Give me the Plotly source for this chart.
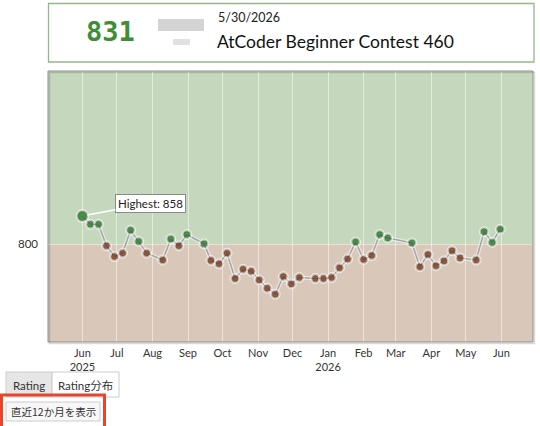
import plotly.graph_objects as go

# ---------------- data ----------------
dates = [
    "2025-05-31", "2025-06-07", "2025-06-14", "2025-06-21", "2025-06-28",
    "2025-07-05", "2025-07-12", "2025-07-19", "2025-07-26", "2025-08-09",
    "2025-08-16", "2025-08-23", "2025-08-30", "2025-09-14", "2025-09-20",
    "2025-09-27", "2025-10-04", "2025-10-11", "2025-10-18", "2025-10-25",
    "2025-11-01", "2025-11-08", "2025-11-15", "2025-11-22", "2025-11-29",
    "2025-12-06", "2025-12-20", "2025-12-27", "2026-01-03", "2026-01-10",
    "2026-01-17", "2026-01-24", "2026-01-31", "2026-02-07", "2026-02-14",
    "2026-02-21", "2026-03-14", "2026-03-21", "2026-03-28", "2026-04-04",
    "2026-04-11", "2026-04-18", "2026-04-25", "2026-05-09", "2026-05-16",
    "2026-05-23", "2026-05-30",
]
ratings = [
    858, 841, 841, 797, 775, 782, 829, 806, 782, 768,
    811, 797, 820, 801, 767, 760, 782, 730, 749, 745,
    727, 710, 698, 734, 719, 732, 730, 730, 732, 752,
    770, 805, 769, 777, 820, 813, 803, 754, 779, 756,
    766, 787, 772, 768, 826, 804, 831,
]
tick_vals = [
    "2025-06-01", "2025-07-01", "2025-08-01", "2025-09-01", "2025-10-01",
    "2025-11-01", "2025-12-01", "2026-01-01", "2026-02-01", "2026-03-01",
    "2026-04-01", "2026-05-01", "2026-06-01",
]
tick_text = ["Jun<br>2025", "Jul", "Aug", "Sep", "Oct", "Nov", "Dec",
             "Jan<br>2026", "Feb", "Mar", "Apr", "May", "Jun"]
y_ticks = [800]
band_edges = [600, 800, 1155]
x_range = ["2025-05-02", "2026-06-28 12:00"]
contest_name = "AtCoder Beginner Contest 460"
contest_date = "5/30/2026"
current_rating = 831

# ---------------- layout helpers ----------------
W, H = 540, 426
L, R, T, B = 48, 533, 71, 342
PW, PH = R - L, B - T


def px(x):
    return (x - L) / PW


def py(y):
    return (B - y) / PH


times = [d + " 22:40" for d in dates]
colors = ["#16761a" if r >= 800 else "#782a08" for r in ratings]
hi_idx = max(range(len(ratings)), key=lambda i: ratings[i])
sizes = [9 if i == hi_idx else 6 for i in range(len(ratings))]

fig = go.Figure()
# line halo
fig.add_trace(go.Scatter(x=times, y=ratings, mode="lines",
                         line=dict(color="rgba(255,255,255,0.5)", width=4),
                         hoverinfo="skip", showlegend=False))
fig.add_trace(go.Scatter(x=times, y=ratings, mode="lines",
                         line=dict(color="#a5a5a5", width=1.5),
                         hoverinfo="skip", showlegend=False))
# marker halo
fig.add_trace(go.Scatter(x=times, y=ratings, mode="markers",
                         marker=dict(color="rgba(120,120,120,0.22)",
                                     size=[s + 4 for s in sizes]),
                         hoverinfo="skip", showlegend=False))
fig.add_trace(go.Scatter(x=times, y=ratings, mode="markers",
                         marker=dict(color=colors, size=sizes,
                                     line=dict(color="rgba(0,0,0,0.35)", width=0.8)),
                         showlegend=False))

shapes = []
# rating bands
shapes.append(dict(type="rect", xref="paper", yref="y", x0=0, x1=1,
                   y0=band_edges[1], y1=band_edges[2], fillcolor="#c5d8bd",
                   line=dict(width=0), layer="below"))
shapes.append(dict(type="rect", xref="paper", yref="y", x0=0, x1=1,
                   y0=band_edges[0], y1=band_edges[1], fillcolor="#d9c8ba",
                   line=dict(width=0), layer="below"))
# chart frame shadow + frame
shapes.append(dict(type="rect", xref="paper", yref="paper",
                   x0=px(L + 1.5), x1=px(R + 1.5), y0=py(B + 1.5), y1=py(T + 1.5),
                   line=dict(color="rgba(0,0,0,0.15)", width=1.5), layer="below"))
shapes.append(dict(type="rect", xref="paper", yref="paper",
                   x0=0, x1=1, y0=0, y1=1,
                   line=dict(color="#8e8e8e", width=1), layer="above"))
# header box
shapes.append(dict(type="rect", xref="paper", yref="paper",
                   x0=px(48.5), x1=px(534), y0=py(62), y1=py(3.5),
                   line=dict(color="#92b98a", width=1.3), fillcolor="white"))
# blurred user name
shapes.append(dict(type="rect", xref="paper", yref="paper",
                   x0=px(158), x1=px(204), y0=py(31), y1=py(19),
                   line=dict(width=0), fillcolor="rgba(160,160,160,0.45)"))
shapes.append(dict(type="rect", xref="paper", yref="paper",
                   x0=px(173), x1=px(190), y0=py(45), y1=py(39),
                   line=dict(width=0), fillcolor="rgba(180,180,180,0.4)"))
# tabs
shapes.append(dict(type="rect", xref="paper", yref="paper",
                   x0=px(6), x1=px(52), y0=py(397), y1=py(372),
                   line=dict(color="#cccccc", width=1), fillcolor="#e6e6e6"))
shapes.append(dict(type="rect", xref="paper", yref="paper",
                   x0=px(52), x1=px(119), y0=py(397), y1=py(372),
                   line=dict(color="#cccccc", width=1), fillcolor="white"))
# button
shapes.append(dict(type="rect", xref="paper", yref="paper",
                   x0=px(6), x1=px(100), y0=py(421), y1=py(402),
                   line=dict(color="#cccccc", width=1), fillcolor="#f7f7f7"))
# red highlight box
shapes.append(dict(type="rect", xref="paper", yref="paper",
                   x0=px(1.5), x1=px(104.5), y0=py(428), y1=py(395),
                   line=dict(color="#e8452c", width=3)))

annotations = []
annotations.append(dict(x=times[hi_idx], y=ratings[hi_idx], xref="x", yref="y",
                        text="Highest: %d" % ratings[hi_idx],
                        showarrow=True, ax=68, ay=-13, arrowhead=0,
                        arrowcolor="white", arrowwidth=1.5, standoff=5,
                        font=dict(family="Lato", size=11.5, color="#222"),
                        bgcolor="white", bordercolor="#8a8a8a", borderwidth=1,
                        borderpad=2))


def label(x, y, text, size, color="#333", family="Lato", xanchor="center"):
    annotations.append(dict(x=px(x), y=py(y), xref="paper", yref="paper",
                            xanchor=xanchor, yanchor="middle", text=text,
                            showarrow=False,
                            font=dict(family=family, size=size, color=color)))


label(110, 32, "<b>%d</b>" % current_rating, 27, color="#3c8f33",
      family="DejaVu Sans Mono")
label(216, 17, contest_date, 12.5, color="#222", xanchor="left")
label(215, 41.5, contest_name, 17.5, color="#111", xanchor="left")
label(29, 385, "Rating", 11.5)
label(85.5, 385, "Rating分布", 11.5, family="Lato, Noto Sans CJK JP")
label(53, 411.5, "直近12か月を表示", 10.5, family="Noto Sans CJK JP")

fig.update_layout(
    width=W, height=H,
    margin=dict(l=L, r=W - R, t=T, b=H - B, pad=0),
    paper_bgcolor="white", plot_bgcolor="#d9c8ba",
    shapes=shapes, annotations=annotations,
    showlegend=False,
    xaxis=dict(type="date", range=x_range, tickvals=tick_vals, ticktext=tick_text,
               showgrid=True, gridcolor="rgba(255,255,255,0.5)", gridwidth=1,
               zeroline=False, showline=False, ticks="", ticklabelstandoff=3,
               tickfont=dict(family="Lato", size=11, color="#333"),
               fixedrange=True),
    yaxis=dict(range=[band_edges[0], band_edges[2]], tickvals=y_ticks,
               ticktext=[str(v) for v in y_ticks],
               showgrid=True, gridcolor="rgba(255,255,255,0.45)", gridwidth=1,
               zeroline=False, showline=False, ticks="", ticklabelstandoff=9,
               tickfont=dict(family="Lato", size=11.5, color="#333"),
               fixedrange=True),
)

fig.write_html("out.html", config={"displayModeBar": False})
